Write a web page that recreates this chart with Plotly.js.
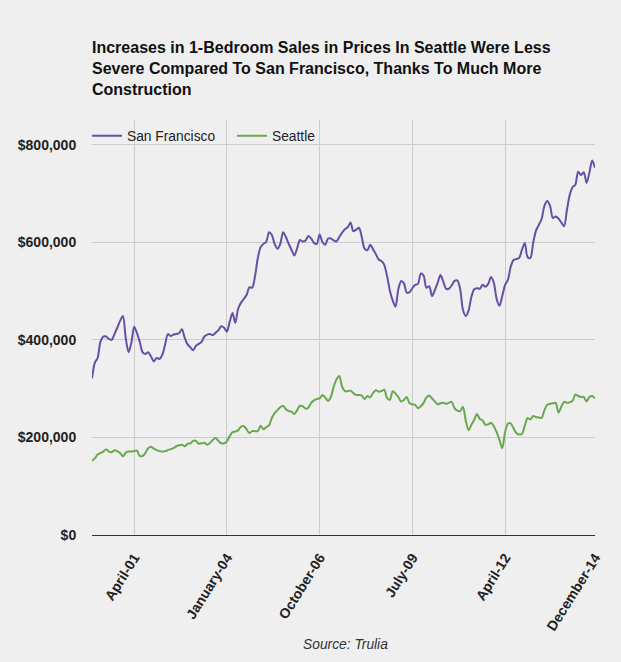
<!DOCTYPE html>
<html>
<head>
<meta charset="utf-8">
<script src="https://cdn.plot.ly/plotly-3.0.1.min.js"></script>
<style>
  html, body { margin: 0; padding: 0; background: #efefef; }
  #plot { width: 621px; height: 662px; }
</style>
</head>
<body>
<div id="plot"></div>
<script>
// Median 1-bedroom sale price, thousands of dollars, monthly Jan 2000 .. Dec 2014
const sanFrancisco = [
  321, 353, 363, 396, 407, 407, 402, 400, 412, 425, 439, 449,
  404, 375, 394, 427, 414, 396, 375, 371, 375, 366, 356, 363,
  361, 369, 390, 412, 408, 411, 412, 414, 422, 404, 391, 385,
  379, 388, 392, 396, 407, 411, 412, 410, 415, 420, 428, 425,
  417, 437, 455, 435, 464, 476, 484, 492, 508, 507, 530, 568,
  590, 597, 601, 621, 615, 597, 587, 597, 621, 611, 597, 585,
  573, 588, 605, 602, 604, 613, 608, 599, 597, 616, 601, 595,
  608, 608, 604, 602, 611, 620, 627, 631, 641, 623, 626, 630,
  611, 587, 584, 595, 586, 576, 565, 562, 554, 531, 501, 481,
  468, 504, 521, 516, 497, 498, 506, 513, 515, 536, 532, 507,
  510, 490, 502, 517, 533, 520, 505, 505, 512, 521, 522, 505,
  462, 449, 460, 488, 504, 506, 505, 513, 509, 515, 529, 517,
  484, 470, 490, 513, 523, 550, 564, 566, 568, 585, 599, 570,
  568, 599, 624, 636, 648, 675, 685, 675, 650, 653, 649, 641,
  633, 666, 697, 713, 718, 745, 738, 744, 722, 743, 768, 753
];

const seattle = [
  152, 157, 165, 168, 171, 176, 171, 170, 174, 172, 168, 161,
  169, 171, 171, 172, 173, 162, 162, 168, 178, 181, 177, 174,
  172, 171, 172, 174, 176, 178, 182, 184, 185, 182, 187, 188,
  193, 193, 187, 188, 189, 185, 189, 195, 199, 193, 188, 188,
  192, 203, 211, 212, 215, 222, 223, 217, 209, 213, 213, 213,
  224, 217, 221, 225, 240, 250, 256, 262, 265, 258, 254, 253,
  248, 256, 265, 264, 259, 261, 271, 276, 279, 280, 287, 282,
  275, 283, 304, 319, 326, 304, 295, 295, 296, 291, 287, 287,
  286, 279, 285, 282, 291, 297, 294, 295, 298, 281, 277, 295,
  290, 283, 274, 277, 283, 270, 268, 267, 260, 264, 271, 282,
  286, 280, 274, 268, 270, 271, 269, 271, 273, 260, 255, 254,
  263, 235, 215, 226, 236, 248, 238, 235, 226, 227, 230, 223,
  211, 195, 178, 211, 228, 229, 219, 209, 206, 207, 224, 240,
  237, 244, 242, 241, 240, 256, 267, 269, 270, 271, 251, 263,
  273, 271, 272, 275, 288, 285, 283, 283, 274, 283, 285, 280
];

const xTickVals = [15, 48, 81, 114, 147, 179];
const xTickText = ['April-01', 'January-04', 'October-06', 'July-09', 'April-12', 'December-14'];
const yTickVals = [0, 200, 400, 600, 800];
const yTickText = ['$0', '$200,000', '$400,000', '$600,000', '$800,000'];

const months = sanFrancisco.map((_, i) => i);

const fontFamily = 'Liberation Sans, Arial, sans-serif';

function makeLine(y, name, color) {
  return {
    x: months, y: y, name: name,
    type: 'scatter', mode: 'lines',
    line: { color: color, width: 2, shape: 'spline', smoothing: 0.8 },
    hoverinfo: 'none'
  };
}

const traces = [
  makeLine(sanFrancisco, 'San Francisco', '#674ea7'),
  makeLine(seattle, 'Seattle', '#6aa84f')
];

const layout = {
  width: 621, height: 662,
  paper_bgcolor: '#efefef',
  plot_bgcolor: '#efefef',
  margin: { l: 92, r: 26, t: 120, b: 127 },
  font: { family: fontFamily, color: '#222' },
  title: {
    text: 'Increases in 1-Bedroom Sales in Prices In Seattle Were Less<br>' +
          'Severe Compared To San Francisco, Thanks To Much More<br>Construction',
    font: { family: fontFamily, size: 16, color: '#111', weight: 'bold' },
    xref: 'paper', x: 0, xanchor: 'left',
    yref: 'container', y: 1 - 53 / 662, yanchor: 'top'
  },
  showlegend: true,
  legend: {
    orientation: 'h',
    x: -0.01, xanchor: 'left',
    y: 0.962, yanchor: 'middle',
    bgcolor: 'rgba(0,0,0,0)',
    font: { family: fontFamily, size: 13.8, color: '#222' },
    itemwidth: 30,
    entrywidth: 100,
    entrywidthmode: 'pixels'
  },
  xaxis: {
    range: [0, 179],
    tickvals: xTickVals, ticktext: xTickText,
    tickangle: -58,
    ticks: 'outside', ticklen: 8, tickcolor: 'rgba(0,0,0,0)',
    tickfont: { family: fontFamily, size: 14, color: '#222', weight: 'bold' },
    showgrid: true, gridcolor: '#cccccc', gridwidth: 1,
    zeroline: false, showline: false
  },
  yaxis: {
    range: [0, 851],
    tickvals: yTickVals, ticktext: yTickText,
    ticks: 'outside', ticklen: 12, tickcolor: 'rgba(0,0,0,0)',
    tickfont: { family: fontFamily, size: 14, color: '#222', weight: 'bold' },
    showgrid: true, gridcolor: '#cccccc', gridwidth: 1,
    zeroline: true, zerolinecolor: '#333333', zerolinewidth: 1,
    showline: false
  },
  annotations: [{
    text: 'Source: Trulia',
    xref: 'paper', yref: 'paper',
    x: 0.503, y: -0.265,
    xanchor: 'center', yanchor: 'middle',
    showarrow: false,
    font: { family: fontFamily, size: 13.8, color: '#333', style: 'italic' }
  }]
};

Plotly.newPlot('plot', traces, layout, { displayModeBar: false, staticPlot: true });
</script>
</body>
</html>
